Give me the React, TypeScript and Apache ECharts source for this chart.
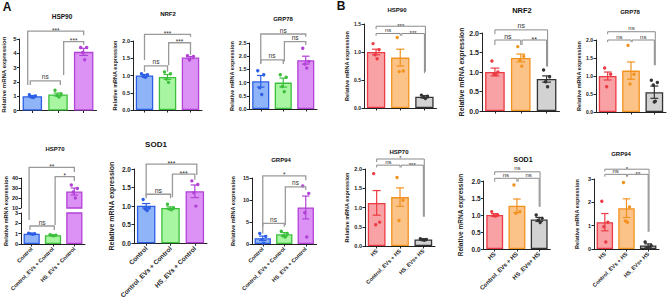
import React, { useEffect, useRef } from "react";
import * as echarts from "echarts";

const FONT = "Arial, 'Liberation Sans', Helvetica, sans-serif";
const Y_NAME = "Relative mRNA expression";

const groupsA = ["Control", "Control_EVs + Control", "HS_EVs + Control"];
const groupsB = ["HS", "Control_EVs + HS", "HS_EVs+ HS"];

// ---- Panel A ----
const hsp90A_mean = [1.0, 1.12, 4.1];
const hsp90A_sem = [0.05, 0.1, 0.25];
const hsp90A_pts = [[1.1, 1.02, 0.95, 0.9], [1.42, 1.15, 1.05, 0.95], [4.4, 4.4, 4.05, 3.55]];
const hsp90A_sig = [[0, 1, 2.07, 1.79, 1.79, -0.08, 0.09], [1, 2, 4.81, 2.49, 4.6, 0.22, 0], [0, 2, 5.55, 1.79, 5.26, -0.18, 0]];
const hsp90A_lab = ["ns", "***", "***"];

const nrf2A_mean = [1.0, 0.96, 1.52];
const nrf2A_sem = [0.03, 0.07, 0.03];
const nrf2A_pts = [[1.05, 1.02, 0.97, 0.95], [1.1, 1.05, 0.9, 0.8], [1.57, 1.55, 1.45]];
const nrf2A_sig = [[0, 1, 1.28, 1.11, 1.11, 0, 0], [1, 2, 1.95, 1.3, 1.6, 0.05, 0], [0, 2, 2.19, 1.45, 2.12, 0, 0]];
const nrf2A_lab = ["ns", "***", "***"];

const grp78A_mean = [1.05, 1.0, 1.85];
const grp78A_sem = [0.22, 0.17, 0.15];
const grp78A_pts = [[1.45, 1.3, 0.8, 0.55], [1.3, 1.2, 0.85, 0.65], [2.3, 1.8, 1.7, 1.55]];
const grp78A_sig = [[0, 1, 1.86, 1.7, 1.7, 0, 0], [1, 2, 2.55, 1.8, 2.42, 0.05, 0], [0, 2, 2.84, 1.73, 2.74, 0, 0]];
const grp78A_lab = ["ns", "ns", "ns"];

const hsp70A_mean = [1.0, 0.85, 26.5];
const hsp70A_sem = [0.03, 0.04, 3.5];
const hsp70A_pts = [[1.05, 1.0, 0.98, 0.95], [0.9, 0.86, 0.83, 0.8], [33, 29.5, 26, 20]];
const hsp70A_sigLow = [[0, 1, 1.74, 1.35, 1.35, -0.08, 0.06]];
const hsp70A_labLow = ["ns"];
const hsp70A_sigHigh = [[1, 2, 41.3, -7, 37, 0.1, 0], [0, 2, 50.7, -2, 46, -0.12, 0]];
const hsp70A_labHigh = ["*", "**"];

const sod1A_mean = [1.01, 0.95, 1.4];
const sod1A_sem = [0.06, 0.03, 0.17];
const sod1A_pts = [[1.18, 0.95, 0.92, 0.88], [1.05, 0.95, 0.92, 0.9], [1.68, 1.58, 1.36, 1.0]];
const sod1A_sig = [[0, 1, 1.32, 1.21, 1.21, 0, 0], [1, 2, 1.86, 1.24, 1.71, 0.08, 0], [0, 2, 2.13, 1.27, 1.84, 0, 0.08]];
const sod1A_lab = ["ns", "***", "***"];

const grp94A_mean = [1.3, 2.2, 8.3];
const grp94A_sem = [0.5, 0.4, 2.6];
const grp94A_pts = [[2.4, 1.7, 1.0, 0.2], [2.9, 2.4, 1.8, 1.6], [13.2, 11.5, 7.1, 1.6]];
const grp94A_sig = [[0, 1, 4.7, 3.9, 3.9, 0, 0], [1, 2, 13, 4.3, 12.3, 0.05, 0], [0, 2, 15.5, 2.4, 14.5, 0, 0]];
const grp94A_lab = ["ns", "ns", "*"];

// ---- Panel B ----
const hsp90B_mean = [1.0, 0.9, 0.2];
const hsp90B_sem = [0.05, 0.15, 0.02];
const hsp90B_pts = [[1.15, 1.04, 0.95, 0.88], [1.26, 0.66, 0.65], [0.23, 0.21, 0.19, 0.17]];
const hsp90B_sig = [[0, 1, 1.33, 1.29, 1.29, 0, 0], [1, 2, 1.33, 1.29, 0.62, 0.06, 0], [0, 2, 1.46, 1.41, 0.65, 0, 0.04]];
const hsp90B_lab = ["ns", "***", "***"];

const nrf2B_mean = [1.0, 1.36, 0.82];
const nrf2B_sem = [0.1, 0.1, 0.08];
const nrf2B_pts = [[1.28, 1.0, 0.95, 0.93], [1.65, 1.4, 1.3, 1.15], [1.05, 0.88, 0.75, 0.62]];
const nrf2B_sig = [[0, 1, 1.82, 1.69, 1.69, 0, 0], [1, 2, 1.82, 1.69, 1.14, 0.05, 0], [0, 2, 2.08, 1.97, 1.14, 0, 0.04]];
const nrf2B_lab = ["ns", "**", "ns"];

const grp78B_mean = [1.0, 1.15, 0.55];
const grp78B_sem = [0.11, 0.24, 0.17];
const grp78B_pts = [[1.22, 1.05, 0.7], [1.85, 1.05, 0.78], [0.88, 0.82, 0.75, 0.3, 0.28]];
const grp78B_sig = [[0, 1, 2.0, 1.94, 1.94, 0, 0], [1, 2, 2.0, 1.94, 1.3, 0.05, 0], [0, 2, 2.23, 2.16, 1.3, 0, 0.04]];
const grp78B_lab = ["ns", "ns", "ns"];

const hsp70B_mean = [1.12, 1.27, 0.17];
const hsp70B_sem = [0.32, 0.24, 0.02];
const hsp70B_pts = [[1.88, 0.62, 0.55], [1.78, 1.19, 0.66], [0.19, 0.17, 0.16, 0.15]];
const hsp70B_sig = [[0, 1, 2.1, 2.04, 2.04, 0, 0], [1, 2, 2.1, 2.04, 0.76, 0.05, 0], [0, 2, 2.26, 2.18, 0.76, 0, 0.04]];
const hsp70B_lab = ["ns", "***", "*"];

const sod1B_mean = [1.0, 1.27, 0.87];
const sod1B_sem = [0.04, 0.2, 0.06];
const sod1B_pts = [[1.1, 1.0, 0.98, 0.97], [1.88, 1.1, 1.05], [1.0, 0.9, 0.85, 0.78]];
const sod1B_sig = [[0, 1, 2.08, 1.98, 1.98, 0, 0], [1, 2, 2.08, 1.98, 1.24, 0.05, 0], [0, 2, 2.27, 2.18, 1.24, 0, 0.04]];
const sod1B_lab = ["ns", "ns", "ns"];

const grp94B_mean = [1.15, 1.75, 0.15];
const grp94B_sem = [0.37, 0.4, 0.07];
const grp94B_pts = [[2.05, 1.15, 0.95, 0.3], [2.85, 1.8, 1.2, 1.15], [0.3, 0.15, 0.05, 0.05]];
const grp94B_sig = [[0, 1, 3.2, 3.1, 3.1, 0, 0], [1, 2, 3.2, 3.1, 0.74, 0.05, 0], [0, 2, 3.42, 3.32, 0.74, 0, 0.04]];
const grp94B_lab = ["ns", "**", "*"];

const palA = [
  { fill: "#8fb5f8", line: "#2c5ee6" },
  { fill: "#a9f6a2", line: "#3dbf3d" },
  { fill: "#dc92f4", line: "#b241d6" },
];
const palB = [
  { fill: "#f8a2a6", line: "#ec3b44" },
  { fill: "#fcc389", line: "#f2921f" },
  { fill: "#d2d2d2", line: "#333333" },
];

const jitter = [-3, 3, -1, 1, 0];

interface Pal { fill: string; line: string }
interface PanelCfg {
  left: number; top: number; width: number; height: number;
  yMin: number; yMax: number; yInterval: number; decimals: number;
  cats: string[]; showX: boolean; showXAxis?: boolean;
  mean: number[]; sem: number[]; pts: number[][];
  sig: number[][]; sigLabels: string[];
  pal: Pal[];
  tickFont: number; nameFont: number; nameGap: number; showName: boolean;
  xFont: number; barMask?: boolean[]; bracketColor: string; bracketWidth: number; sigFont: number;
}

function addPanel(opt: any, c: PanelCfg) {
  const k = opt.grid.length;
  const axisColor = "#222";
  opt.grid.push({ left: c.left, top: c.top, width: c.width, height: c.height, containLabel: false });
  opt.xAxis.push({
    type: "category",
    gridIndex: k,
    data: c.cats,
    show: c.showXAxis !== false,
    boundaryGap: true,
    axisLine: { show: true, lineStyle: { color: axisColor, width: 1 } },
    axisTick: { show: true, alignWithLabel: true, length: 2.5, lineStyle: { color: axisColor, width: 1 } },
    axisLabel: {
      show: c.showX, rotate: 45, interval: 0, fontSize: c.xFont, fontWeight: "bold",
      fontFamily: FONT, color: "#222", margin: 4,
    },
  });
  opt.yAxis.push({
    type: "value",
    gridIndex: k,
    min: c.yMin,
    max: c.yMax,
    interval: c.yInterval,
    name: c.showName ? Y_NAME : "",
    nameLocation: "middle",
    nameGap: c.nameGap,
    nameTextStyle: { fontSize: c.nameFont, fontWeight: "bold", fontFamily: FONT, color: "#222" },
    axisLine: { show: true, lineStyle: { color: axisColor, width: 1 } },
    axisTick: { show: true, length: 2.5, lineStyle: { color: axisColor, width: 1 } },
    splitLine: { show: false },
    axisLabel: {
      fontSize: c.tickFont, fontWeight: "bold", fontFamily: FONT, color: "#222", margin: 3,
      formatter: (v: number) => v.toFixed(c.decimals),
    },
  });
  const band = c.width / c.cats.length;
  const inRange = (v: number) => v >= c.yMin - 1e-9 && v <= c.yMax + 1e-9;
  const mask = c.barMask || c.mean.map(() => true);
  opt.series.push({
    type: "bar",
    xAxisIndex: k,
    yAxisIndex: k,
    barWidth: band * 0.76,
    z: 2,
    data: c.mean.map((m, i) =>
      mask[i]
        ? { value: m, itemStyle: { color: c.pal[i].fill, borderColor: c.pal[i].line, borderWidth: 1.3 } }
        : "-"
    ),
  });
  const errData = c.mean
    .map((m, i) => [i, m, c.sem[i]])
    .filter((d) => mask[d[0]] && inRange(d[1]));
  const capHalf = band * 0.17;
  opt.series.push({
    type: "custom",
    xAxisIndex: k,
    yAxisIndex: k,
    z: 3,
    clip: false,
    data: errData,
    renderItem: (params: any, api: any) => {
      const i = api.value(0);
      const m = api.value(1);
      const e = api.value(2);
      const t = api.coord([i, m + e]);
      const b = api.coord([i, m - e]);
      const col = c.pal[i].line;
      const st = { stroke: col, lineWidth: 1.2 };
      return {
        type: "group",
        children: [
          { type: "line", shape: { x1: t[0], y1: t[1], x2: b[0], y2: b[1] }, style: st },
          { type: "line", shape: { x1: t[0] - capHalf, y1: t[1], x2: t[0] + capHalf, y2: t[1] }, style: st },
          { type: "line", shape: { x1: b[0] - capHalf, y1: b[1], x2: b[0] + capHalf, y2: b[1] }, style: st },
        ],
      };
    },
  });
  const ptData: number[][] = [];
  c.pts.forEach((arr, i) =>
    arr.forEach((v, j) => {
      if (mask[i] && inRange(v)) ptData.push([i, v, j]);
    })
  );
  opt.series.push({
    type: "custom",
    xAxisIndex: k,
    yAxisIndex: k,
    z: 4,
    clip: false,
    data: ptData,
    renderItem: (params: any, api: any) => {
      const i = api.value(0);
      const p = api.coord([i, api.value(1)]);
      const j = api.value(2);
      return {
        type: "circle",
        shape: { cx: p[0] + jitter[j % jitter.length], cy: p[1], r: 1.7 },
        style: { fill: c.pal[i].line },
      };
    },
  });
  opt.series.push({
    type: "custom",
    xAxisIndex: k,
    yAxisIndex: k,
    z: 5,
    clip: false,
    data: c.sig.map((s) => [s[0], s[2]]),
    renderItem: (params: any, api: any) => {
      const s = c.sig[params.dataIndex];
      const label = c.sigLabels[params.dataIndex];
      const pL = api.coord([s[0], s[2]]);
      const pR = api.coord([s[1], s[2]]);
      const xL = pL[0] + s[5] * band;
      const xR = pR[0] + s[6] * band;
      const yLb = api.coord([s[0], s[3]])[1];
      const yRb = api.coord([s[1], s[4]])[1];
      const isStar = label.indexOf("*") >= 0;
      return {
        type: "group",
        children: [
          {
            type: "polyline",
            shape: { points: [[xL, yLb], [xL, pL[1]], [xR, pL[1]], [xR, yRb]] },
            style: { stroke: c.bracketColor, lineWidth: c.bracketWidth, fill: "none" },
          },
          {
            type: "text",
            x: (xL + xR) / 2,
            y: pL[1] + (isStar ? 2.5 : -0.5),
            style: {
              text: label,
              textAlign: "center",
              textVerticalAlign: "bottom",
              align: "center",
              verticalAlign: "bottom",
              fontSize: c.sigFont,
              fontFamily: FONT,
              fill: "#333",
            },
          },
        ],
      };
    },
  });
}

const titles = [
  { text: "A", x: 7, y: 7, size: 12 },
  { text: "B", x: 341, y: 6, size: 12 },
  { text: "HSP90", x: 62, y: 16, size: 6.5 },
  { text: "NRF2", x: 168, y: 14, size: 6 },
  { text: "GRP78", x: 283, y: 19, size: 6 },
  { text: "HSP70", x: 55, y: 149, size: 6 },
  { text: "SOD1", x: 156, y: 144, size: 8 },
  { text: "GRP94", x: 281, y: 160, size: 6 },
  { text: "HSP90", x: 397, y: 10, size: 6 },
  { text: "NRF2", x: 522, y: 10, size: 7.5 },
  { text: "GRP78", x: 630, y: 12, size: 6 },
  { text: "HSP70", x: 399, y: 152, size: 6 },
  { text: "SOD1", x: 523, y: 159, size: 7 },
  { text: "GRP94", x: 621, y: 154, size: 6 },
];

function buildOption() {
  const opt: any = {
    animation: false,
    backgroundColor: "#ffffff",
    grid: [],
    xAxis: [],
    yAxis: [],
    series: [],
  };
  const bA = { pal: palA, bracketColor: "#9a9a9a", bracketWidth: 1.3, sigFont: 6.5 };
  const bB = { pal: palB, bracketColor: "#8a8a8a", bracketWidth: 1, sigFont: 6 };

  addPanel(opt, { ...bA, left: 19.5, top: 39, width: 77, height: 71.5, yMin: 0, yMax: 5, yInterval: 1, decimals: 0,
    cats: groupsA, showX: false, mean: hsp90A_mean, sem: hsp90A_sem, pts: hsp90A_pts, sig: hsp90A_sig, sigLabels: hsp90A_lab,
    tickFont: 6, nameFont: 6, nameGap: 12.5, showName: true, xFont: 6 });
  addPanel(opt, { ...bA, left: 133, top: 41, width: 69, height: 69, yMin: 0, yMax: 2, yInterval: 0.5, decimals: 1,
    cats: groupsA, showX: false, mean: nrf2A_mean, sem: nrf2A_sem, pts: nrf2A_pts, sig: nrf2A_sig, sigLabels: nrf2A_lab,
    tickFont: 5.5, nameFont: 5.5, nameGap: 14.5, showName: true, xFont: 6 });
  addPanel(opt, { ...bA, left: 249.5, top: 43, width: 67.5, height: 66, yMin: 0, yMax: 2.5, yInterval: 0.5, decimals: 1,
    cats: groupsA, showX: false, mean: grp78A_mean, sem: grp78A_sem, pts: grp78A_pts, sig: grp78A_sig, sigLabels: grp78A_lab,
    tickFont: 5.5, nameFont: 5.5, nameGap: 13.4, showName: true, xFont: 6 });
  // HSP70 broken axis: lower part
  addPanel(opt, { ...bA, left: 21, top: 213, width: 64, height: 31, yMin: 0, yMax: 3, yInterval: 1, decimals: 0,
    cats: groupsA, showX: true, mean: hsp70A_mean, sem: hsp70A_sem, pts: hsp70A_pts, sig: hsp70A_sigLow, sigLabels: hsp70A_labLow,
    tickFont: 5.5, nameFont: 5.5, nameGap: 12, showName: false, xFont: 5.5 });
  // HSP70 broken axis: upper part
  addPanel(opt, { ...bA, left: 21, top: 178, width: 64, height: 30, yMin: 10, yMax: 40, yInterval: 10, decimals: 0,
    cats: groupsA, showX: false, showXAxis: false, barMask: [false, false, true],
    mean: hsp70A_mean, sem: hsp70A_sem, pts: hsp70A_pts, sig: hsp70A_sigHigh, sigLabels: hsp70A_labHigh,
    tickFont: 5.5, nameFont: 5.5, nameGap: 12, showName: false, xFont: 5.5 });
  addPanel(opt, { ...bA, left: 134, top: 169, width: 73, height: 76, yMin: 0, yMax: 2, yInterval: 0.5, decimals: 1,
    cats: groupsA, showX: true, mean: sod1A_mean, sem: sod1A_sem, pts: sod1A_pts, sig: sod1A_sig, sigLabels: sod1A_lab,
    tickFont: 6.5, nameFont: 7, nameGap: 19, showName: true, xFont: 6.5, sigFont: 7 });
  addPanel(opt, { ...bA, left: 252, top: 178, width: 64.5, height: 66, yMin: 0, yMax: 15, yInterval: 5, decimals: 0,
    cats: groupsA, showX: true, mean: grp94A_mean, sem: grp94A_sem, pts: grp94A_pts, sig: grp94A_sig, sigLabels: grp94A_lab,
    tickFont: 5.5, nameFont: 5.5, nameGap: 16, showName: true, xFont: 5.5 });

  addPanel(opt, { ...bB, left: 364, top: 24, width: 72.5, height: 84, yMin: 0, yMax: 1.5, yInterval: 0.5, decimals: 1,
    cats: groupsB, showX: false, mean: hsp90B_mean, sem: hsp90B_sem, pts: hsp90B_pts, sig: hsp90B_sig, sigLabels: hsp90B_lab,
    tickFont: 5, nameFont: 5.5, nameGap: 13.5, showName: true, xFont: 6 });
  addPanel(opt, { ...bB, left: 482, top: 33, width: 77.5, height: 78, yMin: 0, yMax: 2, yInterval: 0.5, decimals: 1,
    cats: groupsB, showX: false, mean: nrf2B_mean, sem: nrf2B_sem, pts: nrf2B_pts, sig: nrf2B_sig, sigLabels: nrf2B_lab,
    tickFont: 7, nameFont: 7, nameGap: 17.5, showName: true, xFont: 6, sigFont: 7 });
  addPanel(opt, { ...bB, left: 596, top: 40, width: 70, height: 72, yMin: 0, yMax: 2, yInterval: 0.5, decimals: 1,
    cats: groupsB, showX: false, mean: grp78B_mean, sem: grp78B_sem, pts: grp78B_pts, sig: grp78B_sig, sigLabels: grp78B_lab,
    tickFont: 5, nameFont: 5.5, nameGap: 13.2, showName: true, xFont: 6 });
  addPanel(opt, { ...bB, left: 365, top: 169, width: 70, height: 77, yMin: 0, yMax: 2, yInterval: 0.5, decimals: 1,
    cats: groupsB, showX: true, mean: hsp70B_mean, sem: hsp70B_sem, pts: hsp70B_pts, sig: hsp70B_sig, sigLabels: hsp70B_lab,
    tickFont: 5.5, nameFont: 5.5, nameGap: 14, showName: true, xFont: 5.5 });
  addPanel(opt, { ...bB, left: 483.6, top: 181, width: 66.7, height: 68, yMin: 0, yMax: 2, yInterval: 0.5, decimals: 1,
    cats: groupsB, showX: true, mean: sod1B_mean, sem: sod1B_sem, pts: sod1B_pts, sig: sod1B_sig, sigLabels: sod1B_lab,
    tickFont: 6.5, nameFont: 6.5, nameGap: 19.5, showName: true, xFont: 6 });
  addPanel(opt, { ...bB, left: 594, top: 179, width: 65, height: 70, yMin: 0, yMax: 3, yInterval: 1, decimals: 0,
    cats: groupsB, showX: true, mean: grp94B_mean, sem: grp94B_sem, pts: grp94B_pts, sig: grp94B_sig, sigLabels: grp94B_lab,
    tickFont: 5.5, nameFont: 5.5, nameGap: 14.5, showName: true, xFont: 5.5 });

  const graphics: any[] = titles.map((t) => ({
    type: "text",
    x: t.x,
    y: t.y,
    z: 10,
    style: {
      text: t.text,
      textAlign: "center",
      textVerticalAlign: "middle",
      align: "center",
      verticalAlign: "middle",
      fontSize: t.size,
      fontWeight: "bold",
      fontFamily: FONT,
      fill: "#111",
    },
  }));
  graphics.push({
    type: "text",
    x: 5.5,
    y: 211,
    rotation: Math.PI / 2,
    z: 10,
    style: {
      text: Y_NAME,
      textAlign: "center",
      textVerticalAlign: "middle",
      align: "center",
      verticalAlign: "middle",
      fontSize: 5.5,
      fontWeight: "bold",
      fontFamily: FONT,
      fill: "#222",
    },
  });
  opt.graphic = graphics;
  return opt;
}

export default function App() {
  const ref = useRef<HTMLDivElement>(null);
  useEffect(() => {
    if (!ref.current) return;
    const chart = echarts.init(ref.current, undefined, { renderer: "svg" });
    chart.setOption(buildOption());
    return () => chart.dispose();
  }, []);
  return (
    <div
      ref={ref}
      style={{ position: "absolute", left: 0, top: 0, width: 669, height: 301, background: "#fff" }}
    />
  );
}
